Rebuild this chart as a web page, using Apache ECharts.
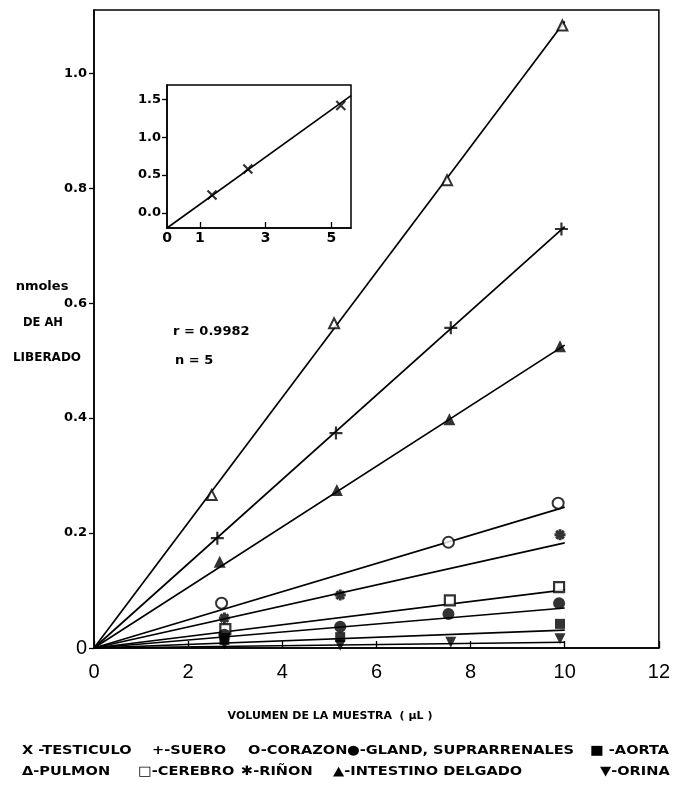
<!DOCTYPE html>
<html><head><meta charset="utf-8">
<script src="https://cdn.jsdelivr.net/npm/echarts@6/dist/echarts.min.js"></script>
<style>html,body{margin:0;padding:0;background:#fff}#c{width:673px;height:786px}</style>
</head><body><div id="c"></div><script>
// ---- data (volumen de la muestra µL vs nmoles de AH liberado) ----
const xTicks = [0, 2, 4, 6, 8, 10, 12];
const yTicks = [0, 0.2, 0.4, 0.6, 0.8, 1.0];

const pulmonX = [2.5, 5.1, 7.5, 9.95];
const pulmonY = [0.266, 0.565, 0.814, 1.083];
const pulmonFit = 1.09;

const sueroX = [2.62, 5.14, 7.58, 9.93];
const sueroY = [0.191, 0.374, 0.557, 0.729];
const sueroFit = 0.733;

const intestinoX = [2.67, 5.16, 7.55, 9.9];
const intestinoY = [0.150, 0.275, 0.398, 0.525];
const intestinoFit = 0.527;

const corazonX = [2.71, 7.53, 9.86];
const corazonY = [0.078, 0.184, 0.252];
const corazonFit = 0.245;

const rinonX = [2.77, 5.23, 9.9];
const rinonY = [0.052, 0.092, 0.197];
const rinonFit = 0.183;

const cerebroX = [2.79, 7.56, 9.88];
const cerebroY = [0.033, 0.083, 0.106];
const cerebroFit = 0.101;

const glandX = [2.77, 5.23, 7.53, 9.88];
const glandY = [0.023, 0.037, 0.059, 0.078];
const glandFit = 0.0696;

const aortaX = [2.77, 5.23, 9.9];
const aortaY = [0.014, 0.019, 0.042];
const aortaFit = 0.031;

const orinaX = [2.77, 5.23, 7.58, 9.9];
const orinaY = [0.007, 0.005, 0.010, 0.016];
const orinaFit = 0.010;

// inset: testiculo
const testX = [1.37, 2.46, 5.29];
const testY = [0.237, 0.579, 1.42];
const testFitStart = [0, -0.2];
const testFitEnd = [5.6, 1.55];
const insetXLabels = [0, 1, 3, 5];
const insetXTicks = [1, 3, 5];
const insetYLabels = [0, 0.5, 1.0, 1.5];

// ---- symbols ----
const PLUS = 'path://M5,0L5,10M0,5L10,5';
const CROSS = 'path://M0,0L10,10M10,0L0,10';
const STAR = 'path://M5,0L5,10M0,5L10,5M1.5,1.5L8.5,8.5M8.5,1.5L1.5,8.5';

function pairs(xs, ys){ return xs.map((x,i)=>[x, ys[i]]); }

function group(name, xs, ys, fit, sym, opts){
  const o = opts || {};
  return [
    {type:'line', name:name+' fit', data:[[0,0],[10,fit]], symbol:'none', silent:true,
     lineStyle:{color:'#000', width:1.7}, z:2, animation:false},
    {type:'scatter', name:name, data:pairs(xs,ys), symbol:sym, symbolSize:o.size||10,
     symbolRotate:o.rot||0, z:4, animation:false,
     itemStyle:{color:o.fill||'#000', borderColor:'#000', borderWidth:o.bw||0}}
  ];
}

const series = [].concat(
  group('PULMON', pulmonX, pulmonY, pulmonFit, 'triangle', {fill:'#fff', bw:2, size:10}),
  group('SUERO', sueroX, sueroY, sueroFit, PLUS, {fill:'none', bw:2.2, size:13}),
  group('INTESTINO DELGADO', intestinoX, intestinoY, intestinoFit, 'triangle', {size:12}),
  group('CORAZON', corazonX, corazonY, corazonFit, 'circle', {fill:'#fff', bw:2, size:11}),
  group('RIÑON', rinonX, rinonY, rinonFit, STAR, {fill:'none', bw:3, size:11}),
  group('CEREBRO', cerebroX, cerebroY, cerebroFit, 'rect', {fill:'#fff', bw:2.2, size:10}),
  group('GLAND. SUPRARRENALES', glandX, glandY, glandFit, 'circle', {size:12}),
  group('AORTA', aortaX, aortaY, aortaFit, 'rect', {size:10}),
  group('ORINA', orinaX, orinaY, orinaFit, 'triangle', {size:11, rot:180}),
  [
    {type:'line', name:'TESTICULO fit', xAxisIndex:1, yAxisIndex:1,
     data:[testFitStart, testFitEnd], symbol:'none', silent:true,
     lineStyle:{color:'#000', width:1.6}, z:2, animation:false},
    {type:'scatter', name:'TESTICULO', xAxisIndex:1, yAxisIndex:1, data:pairs(testX,testY),
     symbol:CROSS, symbolSize:9, z:4, animation:false,
     itemStyle:{color:'none', borderColor:'#000', borderWidth:2.2}}
  ]
);

const BOLD = 'DejaVu Sans';
const LF = 'bold 13px DejaVu Sans';
function txt(x, y, s, font, align, sx){
  return {type:'text', x:x, y:y, scaleX:sx||1,
          style:{text:s, font:font, fill:'#000', textAlign:align||'left', textVerticalAlign:'middle'}};
}
const chart = echarts.init(document.getElementById('c'), null, {renderer:'canvas'});
chart.setOption({
  backgroundColor:'#fff',
  animation:false,
  grid:[
    {left:94, top:10, width:566, height:638, show:true, borderColor:'#000', borderWidth:1.5, backgroundColor:'transparent'},
    {left:167, top:85, width:184, height:143, show:true, borderColor:'#000', borderWidth:1.5, backgroundColor:'transparent'}
  ],
  xAxis:[
    {type:'value', gridIndex:0, min:xTicks[0], max:xTicks[xTicks.length-1], interval:2,
     axisLine:{onZero:false, lineStyle:{color:'#000', width:1.5}},
     axisTick:{inside:true, length:7, lineStyle:{color:'#000', width:1.3}},
     axisLabel:{color:'#000', fontSize:20, fontFamily:'Liberation Sans', margin:14},
     splitLine:{show:false}},
    {type:'value', gridIndex:1, min:0, max:5.6,
     axisLine:{onZero:false, lineStyle:{color:'#000', width:1.5}},
     axisTick:{inside:true, length:6, customValues:insetXTicks, lineStyle:{color:'#000', width:1.3}},
     axisLabel:{customValues:insetXLabels, color:'#000', fontSize:14, fontWeight:'bold', fontFamily:BOLD, margin:3},
     splitLine:{show:false}}
  ],
  yAxis:[
    {type:'value', gridIndex:0, min:yTicks[0], max:1.11, interval:0.2,
     axisLine:{onZero:false, lineStyle:{color:'#000', width:1.5}},
     axisTick:{length:5, lineStyle:{color:'#000', width:1.3}},
     axisLabel:{showMaxLabel:false, color:'#000', fontSize:13, fontWeight:'bold', fontFamily:BOLD, margin:7,
       formatter:v => v === 0 ? '{z|0}' : v.toFixed(1),
       rich:{z:{fontSize:20, fontWeight:'normal', fontFamily:'Liberation Sans', color:'#000'}}},
     splitLine:{show:false}},
    {type:'value', gridIndex:1, min:-0.2, max:1.69,
     axisLine:{onZero:false, lineStyle:{color:'#000', width:1.5}},
     axisTick:{length:5, customValues:insetYLabels, lineStyle:{color:'#000', width:1.3}},
     axisLabel:{customValues:insetYLabels, color:'#000', fontSize:13, fontWeight:'bold', fontFamily:BOLD, margin:6,
       formatter:v => v.toFixed(1)},
     splitLine:{show:false}}
  ],
  series:series,
  graphic:[
    txt(173, 332, 'r = 0.9982', 'bold 13px DejaVu Sans'),
    txt(175, 361, 'n = 5', 'bold 13px DejaVu Sans'),
    txt(42, 287, 'nmoles', 'bold 13px DejaVu Sans', 'center'),
    txt(43, 323, 'DE AH', 'bold 11.5px DejaVu Sans', 'center'),
    txt(47, 358, 'LIBERADO', 'bold 12px DejaVu Sans', 'center'),
    txt(330, 716, 'VOLUMEN DE LA MUESTRA  ( \u00b5L )', 'bold 11px DejaVu Sans', 'center'),
    txt(22, 751, 'X -TESTICULO', LF, 'left', 1.12),
    txt(152, 751, '+-SUERO', LF, 'left', 1.12),
    txt(248, 751, 'O-CORAZON', LF, 'left', 1.12),
    txt(347, 751, '\u25CF-GLAND, SUPRARRENALES', LF, 'left', 1.12),
    txt(590, 751, '\u25A0 -AORTA', LF, 'left', 1.12),
    txt(22, 772, '\u0394-PULMON', LF, 'left', 1.12),
    txt(138, 772, '\u25A1-CEREBRO', LF, 'left', 1.12),
    txt(241, 772, '\u2731-RI\u00d1ON', LF, 'left', 1.12),
    txt(333, 772, '\u25B2-INTESTINO DELGADO', LF, 'left', 1.12),
    txt(600, 772, '\u25BC-ORINA', LF, 'left', 1.12)
  ]
});
</script></body></html>
